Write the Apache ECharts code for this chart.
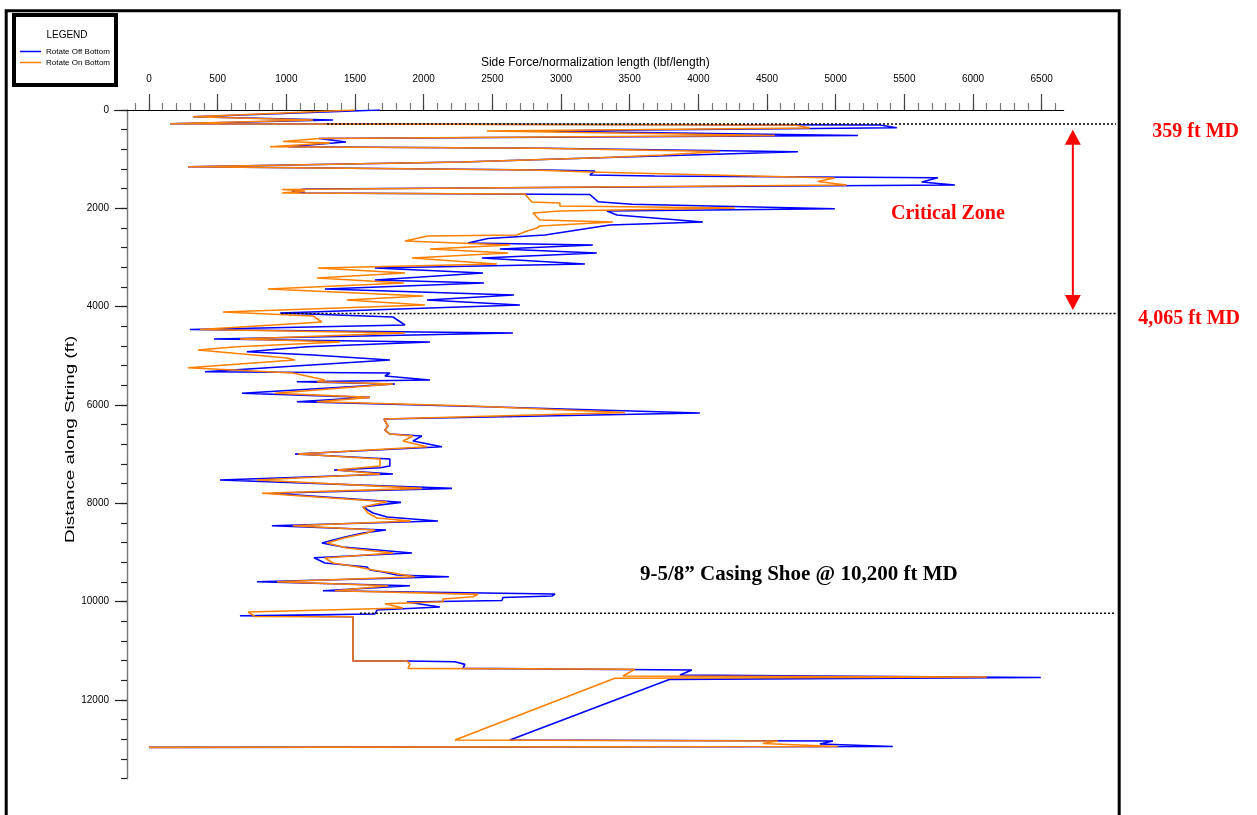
<!DOCTYPE html>
<html><head><meta charset="utf-8">
<script src="https://cdn.jsdelivr.net/npm/echarts@6/dist/echarts.min.js"></script>
<style>html,body{margin:0;padding:0;background:#fff}#c{width:1257px;height:815px}</style>
</head><body><div id="c"></div>
<script>
// ---------- data (side force vs. measured depth) ----------
const seriesNames = ['Rotate Off Bottom', 'Rotate On Bottom'];
const offBottomForce = [1682,320,1340,153,5322,5445,2788,5162,1238,1434,
1012,2883,4725,3283,2279,284,2883,3247,3210,3684,
5744,5627,5868,1136,1041,1136,3210,3269,3516,4994,
3334,3407,4033,3356,2883,2468,2322,3232,2555,3261,
2424,3174,1645,2432,1645,2439,1281,2657,2024,2701,
954,1776,1864,298,2650,473,2046,1150,713,1194,
1754,408,1754,1718,2046,1077,1791,677,1609,1077,
2519,4011,1711,1740,1718,1754,1987,1922,2133,1063,
1754,1754,1682,1347,1776,517,2206,895,1835,1558,
1594,1631,1733,2104,895,1725,1558,1427,1259,1412,
1915,1201,1281,1587,1609,1704,1805,2184,786,1900,
1267,2956,2934,2577,2570,1878,2118,1660,1645,662,
1485,1485,1878,2228,2300,2286,3953,3866,6494,3793,
2628,4980,4885,5416,0];
const offBottomDepth = [0,136,203,279,305,360,427,519,580,651,
746,779,848,970,1058,1153,1220,1241,1322,1342,
1377,1464,1526,1607,1648,1688,1719,1865,1918,2008,
2054,2136,2278,2339,2543,2614,2705,2746,2827,2909,
3010,3132,3214,3315,3458,3519,3641,3763,3865,3966,
4129,4210,4373,4465,4536,4658,4719,4815,4916,4983,
5085,5323,5349,5410,5492,5526,5573,5762,5844,5933,
6041,6163,6285,6427,6509,6590,6631,6733,6849,6997,
7099,7241,7276,7322,7404,7526,7695,7796,7980,8075,
8136,8197,8278,8360,8455,8543,8604,8685,8807,8889,
9011,9106,9214,9295,9356,9397,9458,9493,9594,9676,
9778,9845,9885,9916,9977,10007,10109,10170,10251,10286,
10306,11207,11207,11222,11275,11356,11390,11492,11543,11580,
12814,12835,12896,12946,12963];
const onBottomForce = [1500,320,1194,153,4703,4812,2461,4557,1238,976,
1318,881,2846,4157,3742,3283,2279,284,2796,3210,
4994,4870,5081,968,1136,968,2737,2788,2992,2992,
4266,2992,2796,2846,3378,2846,2825,2752,2679,2031,
1864,2628,2046,2614,1915,2533,1230,1864,1223,1856,
866,1995,1441,2009,539,1194,1259,371,1864,662,
1390,641,357,1005,1063,284,1048,1281,1223,1776,
917,1609,1223,2351,3465,1711,1740,1718,1754,1922,
1849,2024,1085,1682,1682,1369,1682,786,1987,823,
1733,1558,1594,1660,1907,1048,1645,1587,1420,1296,
1441,1776,1281,1340,1522,1631,1776,1936,932,1740,
1354,2395,2359,2140,2140,1718,1849,721,772,1485,
1485,1878,1900,1886,3538,3451,6101,3392,2228,4579,
4470,5016,0];
const onBottomDepth = [0,136,203,279,305,366,427,519,580,641,
671,746,779,844,915,970,1058,1153,1220,1261,
1383,1454,1526,1617,1648,1688,1709,1871,1892,1953,
1993,2054,2095,2237,2278,2359,2400,2461,2543,2563,
2665,2746,2827,2909,3010,3132,3214,3315,3417,3519,
3641,3783,3865,3966,4109,4190,4312,4465,4536,4658,
4719,4815,4882,5044,5085,5242,5349,5492,5526,5573,
5762,5844,5933,6021,6153,6285,6427,6509,6590,6631,
6733,6849,6997,7099,7241,7322,7404,7526,7695,7796,
7967,8075,8197,8299,8360,8455,8543,8604,8706,8807,
8909,9011,9112,9214,9295,9356,9417,9493,9594,9676,
9778,9851,9900,9946,10001,10042,10129,10211,10302,10306,
11207,11207,11268,11356,11376,11512,11533,11559,12814,12835,
12885,12946,12963];

// axis ranges / tick steps
const xRange = [-250, 6660];
const xMinorRange = [-100, 6600], xMinorStep = 100;
const xMajorRange = [0, 6500], xMajorStep = 500;
const yRange = [0, 13600], yMinorStep = 400;
const yMajorRange = [0, 12000], yMajorStep = 2000;
const xTitle = 'Side Force/normalization length (lbf/length)';
const yTitle = 'Distance along String (ft)';

// annotation depths (ft) and start forces of the dotted marker lines
const markerDepths = [285, 4139, 10237];
const markerStartForce = [1296, 965, 1536];
const arrowDepths = [400, 4068];
const arrowForce = 6727;
const markerLabels = ['359 ft MD', '4,065 ft MD'];
const zoneLabel = 'Critical Zone';
const shoeLabel = '9-5/8\u201d Casing Shoe @ 10,200 ft MD';

// ---------- layout ----------
const SANS = '"Liberation Sans",Arial,sans-serif';
const SERIF = '"Liberation Serif","Times New Roman",serif';
const sx = 206 / 1500;          // px per lbf/length
const sy = 98.333 / 2000;       // px per ft
const X0 = 149, Y0 = 110, YAXIS_X = 127;
const gx = v => X0 + v * sx;
const plain = v => String(v);

function zip(a, b) { return a.map((v, i) => [v, b[i]]); }

const H = (yRange[1] - yRange[0]) * sy;
const grids = [
  {left: gx(xRange[0]), top: Y0, width: (xRange[1]-xRange[0])*sx, height: H},
  {left: gx(xMinorRange[0]), top: Y0, width: (xMinorRange[1]-xMinorRange[0])*sx, height: H},
  {left: gx(xMajorRange[0]), top: Y0, width: (xMajorRange[1]-xMajorRange[0])*sx, height: H},
  {left: YAXIS_X, top: Y0, width: 10, height: H},
  {left: YAXIS_X, top: Y0, width: 10, height: (yMajorRange[1]-yMajorRange[0])*sy}
].map(g => Object.assign({outerBoundsMode: 'none', containLabel: false, show: false}, g));

const hiddenX = i => ({gridIndex: i, type: 'value', show: false, min: 0, max: 1});
const hiddenY = i => ({gridIndex: i, type: 'value', show: false, min: yRange[0], max: yRange[1], inverse: true});

const option = {
  animation: false,
  backgroundColor: '#fff',
  grid: grids,
  xAxis: [
    {gridIndex: 0, type: 'value', position: 'top', min: xRange[0], max: xRange[1],
     axisLine: {show: true, onZero: false, lineStyle: {color: '#000', width: 1.2}},
     axisTick: {show: false}, axisLabel: {show: false}, splitLine: {show: false}},
    {gridIndex: 1, type: 'value', position: 'top', min: xMinorRange[0], max: xMinorRange[1], interval: xMinorStep,
     axisLine: {show: false, onZero: false}, axisTick: {show: true, length: 7, lineStyle: {color: '#777', width: 1.2}},
     axisLabel: {show: false}, splitLine: {show: false}},
    {gridIndex: 2, type: 'value', position: 'top', min: xMajorRange[0], max: xMajorRange[1], interval: xMajorStep,
     axisLine: {show: false, onZero: false}, axisTick: {show: true, length: 16, lineStyle: {color: '#444', width: 1.2}},
     axisLabel: {show: true, margin: 26, fontFamily: SANS, fontSize: 10, color: '#000', formatter: plain},
     splitLine: {show: false},
     name: xTitle, nameLocation: 'middle', nameGap: 38,
     nameTextStyle: {fontFamily: SANS, fontSize: 12, color: '#000'}},
    hiddenX(3), hiddenX(4)
  ],
  yAxis: [
    hiddenY(0), hiddenY(1), hiddenY(2),
    {gridIndex: 3, type: 'value', position: 'left', inverse: true, min: yRange[0], max: yRange[1], interval: yMinorStep,
     axisLine: {show: true, onZero: false, lineStyle: {color: '#777', width: 1.4}},
     axisTick: {show: true, length: 6, lineStyle: {color: '#222', width: 1.2}},
     axisLabel: {show: false}, splitLine: {show: false}},
    {gridIndex: 4, type: 'value', position: 'left', inverse: true, min: yMajorRange[0], max: yMajorRange[1], interval: yMajorStep,
     axisLine: {show: false, onZero: false},
     axisTick: {show: true, length: 12, lineStyle: {color: '#222', width: 1.2}},
     axisLabel: {show: true, margin: 18, fontFamily: SANS, fontSize: 10, color: '#000', formatter: plain},
     splitLine: {show: false}}
  ],
  legend: {
    left: 20, top: 46, orient: 'vertical', icon: 'rect', itemWidth: 21, itemHeight: 1.5, itemGap: 0,
    padding: 0, selectedMode: false, data: seriesNames,
    textStyle: {fontFamily: SANS, fontSize: 8, color: '#000', lineHeight: 11}
  },
  series: [
    {name: seriesNames[0], type: 'line', xAxisIndex: 0, yAxisIndex: 0, data: zip(offBottomForce, offBottomDepth),
     symbol: 'none', showSymbol: false, lineStyle: {color: '#0000ff', width: 1.6}, itemStyle: {color: '#0000ff'}, z: 2},
    {name: seriesNames[1], type: 'line', xAxisIndex: 0, yAxisIndex: 0, data: zip(onBottomForce, onBottomDepth),
     symbol: 'none', showSymbol: false, lineStyle: {color: '#ff8000', width: 1.6}, itemStyle: {color: '#ff8000'}, z: 3}
  ]
};

const chart = echarts.init(document.getElementById('c'), null, {renderer: 'canvas'});
chart.setOption(option);

// ---------- annotations positioned through the chart's own scales ----------
const toPx = (f, d) => chart.convertToPixel({gridIndex: 0}, [f, d]);
const FRAME_RIGHT = 1116;
const g = [];
g.push({type: 'rect', z: 20, shape: {x: 6.2, y: 10.7, width: 1113, height: 830}, style: {fill: 'none', stroke: '#000', lineWidth: 3}});
g.push({type: 'rect', z: 20, shape: {x: 14, y: 15, width: 102, height: 70}, style: {fill: 'none', stroke: '#000', lineWidth: 4}});
g.push({type: 'text', z: 20, style: {text: 'LEGEND', x: 67, y: 35, align: 'center', verticalAlign: 'middle', fontFamily: SANS, fontSize: 10, fill: '#000'}});
// y axis title (stretched along its baseline like the letter-spaced original)
const yMid = toPx(0, (yRange[0] + yRange[1]) / 2)[1] - 5;
g.push({type: 'text', z: 20, x: 70, y: yMid, rotation: Math.PI / 2, scaleX: 1.45, scaleY: 1,
  style: {text: yTitle, x: 0, y: 0, align: 'center', verticalAlign: 'middle', fontFamily: SANS, fontSize: 13, fill: '#000'}});
markerDepths.forEach((d, i) => {
  const p = toPx(markerStartForce[i], d);
  g.push({type: 'line', z: 20, shape: {x1: p[0], y1: p[1], x2: FRAME_RIGHT, y2: p[1]},
    style: {stroke: '#000', lineWidth: 1.6, lineDash: [2, 2]}});
});
const a1 = toPx(arrowForce, arrowDepths[0]), a2 = toPx(arrowForce, arrowDepths[1]);
const head = 15, hw = 8;
g.push({type: 'line', z: 20, shape: {x1: a1[0], y1: a1[1] + head - 2, x2: a2[0], y2: a2[1] - head + 2}, style: {stroke: '#ff0000', lineWidth: 2}});
g.push({type: 'polygon', z: 20, shape: {points: [[a1[0], a1[1]], [a1[0] - hw, a1[1] + head], [a1[0] + hw, a1[1] + head]]}, style: {fill: '#ff0000'}});
g.push({type: 'polygon', z: 20, shape: {points: [[a2[0], a2[1]], [a2[0] - hw, a2[1] - head], [a2[0] + hw, a2[1] - head]]}, style: {fill: '#ff0000'}});
g.push({type: 'text', z: 20, style: {text: markerLabels[0], x: 1239, y: 132, align: 'right', verticalAlign: 'middle', fontFamily: SERIF, fontWeight: 'bold', fontSize: 20, fill: '#ff0000'}});
g.push({type: 'text', z: 20, style: {text: markerLabels[1], x: 1240, y: 319, align: 'right', verticalAlign: 'middle', fontFamily: SERIF, fontWeight: 'bold', fontSize: 20, fill: '#ff0000'}});
g.push({type: 'text', z: 20, style: {text: zoneLabel, x: 891, y: 214, align: 'left', verticalAlign: 'middle', fontFamily: SERIF, fontWeight: 'bold', fontSize: 20, fill: '#ff0000'}});
g.push({type: 'text', z: 20, style: {text: shoeLabel, x: 640, y: 575, align: 'left', verticalAlign: 'middle', fontFamily: SERIF, fontWeight: 'bold', fontSize: 21, fill: '#000'}});
chart.setOption({graphic: {elements: g}});
</script></body></html>
